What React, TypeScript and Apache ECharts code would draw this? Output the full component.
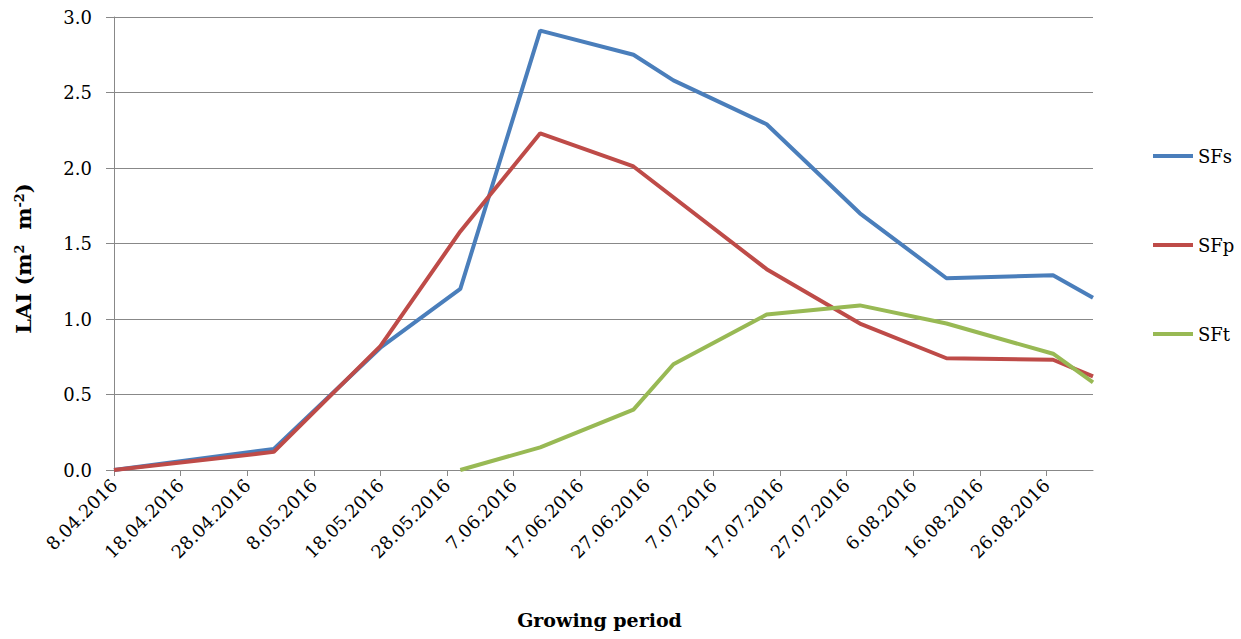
import React, { useEffect, useRef } from 'react';
import * as echarts from 'echarts';

// sampling dates and LAI values
const sampleDates = [
  '8.04.2016', '2.05.2016', '18.05.2016', '30.05.2016', '11.06.2016', '25.06.2016',
  '1.07.2016', '15.07.2016', '29.07.2016', '11.08.2016', '27.08.2016', '2.09.2016'
];
const sfs = [0, 0.14, 0.81, 1.2, 2.91, 2.75, 2.58, 2.29, 1.7, 1.27, 1.29, 1.14];
const sfp = [0, 0.12, 0.82, 1.58, 2.23, 2.01, null, 1.33, 0.97, 0.74, 0.73, 0.62];
const sft = [null, null, null, 0, 0.15, 0.4, 0.7, 1.03, 1.09, 0.97, 0.77, 0.58];

const tickDates = [
  '8.04.2016', '18.04.2016', '28.04.2016', '8.05.2016', '18.05.2016', '28.05.2016',
  '7.06.2016', '17.06.2016', '27.06.2016', '7.07.2016', '17.07.2016', '27.07.2016',
  '6.08.2016', '16.08.2016', '26.08.2016'
];
const axisEnd = '2.09.2016';

const FONT = 'DejaVu Serif';
const DAY = 86400000;

const parse = (s: string) => {
  const [d, m, y] = s.split('.').map(Number);
  return Date.UTC(y, m - 1, d);
};
const origin = parse(tickDates[0]);
const toDay = (s: string) => Math.round((parse(s) - origin) / DAY);
const fmt = (day: number) => {
  const d = new Date(origin + day * DAY);
  return `${d.getUTCDate()}.${String(d.getUTCMonth() + 1).padStart(2, '0')}.${d.getUTCFullYear()}`;
};

const pairs = (vals: (number | null)[]) =>
  sampleDates.map((s, i) => [toDay(s), vals[i]]).filter((p) => p[1] !== null);

const App: React.FC = () => {
  const chartRef = useRef<HTMLDivElement>(null);

  useEffect(() => {
    if (!chartRef.current) return;
    const chart = echarts.init(chartRef.current, undefined, { renderer: 'svg' });
    const ticks = tickDates.map(toDay);

    chart.setOption({
      animation: false,
      textStyle: { fontFamily: FONT },
      grid: { left: 114, right: 148, top: 17, bottom: 169, containLabel: false },
      legend: {
        orient: 'vertical',
        left: 1148,
        top: 142,
        icon: 'rect',
        itemWidth: 40,
        itemHeight: 4,
        itemGap: 71,
        textStyle: { fontFamily: FONT, fontSize: 18, color: '#000', lineHeight: 18 },
        data: ['SFs', 'SFp', 'SFt']
      },
      xAxis: {
        type: 'value',
        min: 0,
        max: toDay(axisEnd),
        interval: 10,
        name: 'Growing period',
        nameLocation: 'middle',
        nameGap: 140,
        nameTextStyle: { fontFamily: FONT, fontSize: 19, fontWeight: 'bold', color: '#000', padding: [0, 8, 0, 0] },
        axisLine: { lineStyle: { color: '#888', width: 1 } },
        axisTick: { show: true, length: 6, lineStyle: { color: '#888' }, customValues: ticks },
        splitLine: { show: false },
        axisLabel: {
          customValues: ticks,
          rotate: 45,
          margin: 12,
          fontFamily: FONT,
          fontSize: 18,
          color: '#000',
          formatter: (v: number) => fmt(v)
        }
      },
      yAxis: {
        type: 'value',
        min: 0,
        max: 3,
        interval: 0.5,
        name: 'LAI (m{sup|2}  m{sup|-2})',
        nameLocation: 'middle',
        nameGap: 80,
        nameTextStyle: {
          fontFamily: FONT,
          fontSize: 21,
          fontWeight: 'bold',
          color: '#000',
          padding: [0, 30, 0, 0],
          rich: {
            sup: { fontFamily: FONT, fontSize: 13, fontWeight: 'bold', color: '#000', verticalAlign: 'top', lineHeight: 21 }
          }
        },
        axisLine: { show: true, lineStyle: { color: '#888', width: 1 } },
        axisTick: { show: true, length: 8, lineStyle: { color: '#888' } },
        splitLine: { lineStyle: { color: '#888', width: 1 } },
        axisLabel: {
          margin: 22,
          fontFamily: FONT,
          fontSize: 18,
          color: '#000',
          formatter: (v: number) => v.toFixed(1)
        }
      },
      series: [
        { name: 'SFs', type: 'line', data: pairs(sfs), symbol: 'none', color: '#4A7EBB', lineStyle: { width: 4 } },
        { name: 'SFp', type: 'line', data: pairs(sfp), symbol: 'none', color: '#BE4B48', lineStyle: { width: 4 } },
        { name: 'SFt', type: 'line', data: pairs(sft), symbol: 'none', color: '#98B954', lineStyle: { width: 4 } }
      ]
    });

    return () => {
      chart.dispose();
    };
  }, []);

  return (
    <div
      ref={chartRef}
      style={{ position: 'fixed', left: 0, top: 0, width: 1241, height: 639, background: '#fff' }}
    />
  );
};

export default App;
